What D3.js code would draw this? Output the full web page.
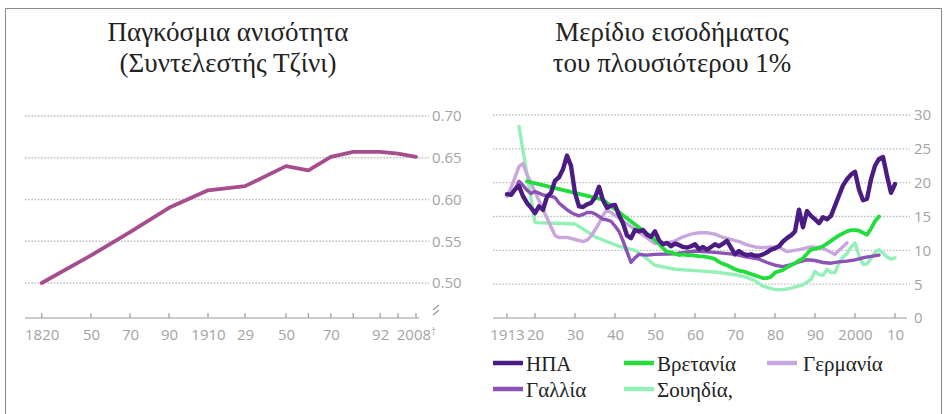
<!DOCTYPE html>
<html><head><meta charset="utf-8">
<script src="https://cdn.jsdelivr.net/npm/d3@7"></script>
<style>
html,body{margin:0;padding:0;background:#fff;}
svg{display:block;}
</style></head>
<body>
<svg id="chart" width="944" height="414"></svg>
<script>
// ---------- DATA ----------
const leftTitle = ["Παγκόσμια ανισότητα", "(Συντελεστής Τζίνι)"];
const rightTitle = ["Μερίδιο εισοδήματος", "του πλουσιότερου 1%"];

const giniYears  = [1820, 1850, 1870, 1890, 1910, 1929, 1950, 1960, 1970, 1980, 1992, 2000, 2008];
const giniValues = [0.500, 0.533, 0.561, 0.590, 0.611, 0.616, 0.640, 0.635, 0.651, 0.657, 0.657, 0.655, 0.651];
const giniTickLabels = ["1820", "50", "70", "90", "1910", "29", "50", "", "70", "", "92", "", "2008"];
const giniYTicks = [0.50, 0.55, 0.60, 0.65, 0.70];

const shareXTicks = [1913, 1920, 1930, 1940, 1950, 1960, 1970, 1980, 1990, 2000, 2010];
const shareXLabels = ["1913", "20", "30", "40", "50", "60", "70", "80", "90", "2000", "10"];
const shareYTicks = [0, 5, 10, 15, 20, 25, 30];

const usYears = [1913,1914,1915,1916,1917,1918,1919,1920,1921,1922,1923,1924,1925,1926,1927,1928,1929,1930,1931,1932,1933,1934,1935,1936,1937,1938,1939,1940,1941,1942,1943,1944,1945,1946,1947,1948,1949,1950,1951,1952,1953,1954,1955,1956,1957,1958,1959,1960,1961,1962,1963,1964,1965,1966,1967,1968,1969,1970,1971,1972,1973,1974,1975,1976,1977,1978,1979,1980,1981,1982,1983,1984,1985,1986,1987,1988,1989,1990,1991,1992,1993,1994,1995,1996,1997,1998,1999,2000,2001,2002,2003,2004,2005,2006,2007,2008,2009,2010];
const usValues = [18.3,18.2,19.0,19.5,18.0,17.0,16.3,15.5,16.5,16.0,17.9,18.5,20.3,20.8,22.0,24.0,22.5,18.5,16.5,16.4,16.8,17.0,17.8,19.4,17.4,16.3,16.6,16.7,15.2,14.0,12.2,11.8,13.0,12.8,13.0,12.3,12.0,12.8,11.5,10.9,11.1,10.6,11.0,10.8,10.5,10.4,10.6,10.9,10.2,10.5,10.1,10.5,10.9,10.6,11.0,11.4,10.4,9.4,9.9,9.5,9.3,9.4,9.2,9.2,9.4,9.7,10.1,10.3,10.6,11.3,11.8,12.2,12.8,16.0,13.4,15.8,15.1,14.6,14.0,14.9,14.6,15.1,16.6,18.1,19.6,20.5,21.2,21.6,19.0,17.4,17.6,20.5,22.5,23.5,23.8,21.0,18.5,19.8];

const ukYears = [1918,1937,1938,1949,1951,1952,1953,1954,1955,1956,1957,1958,1959,1960,1961,1962,1963,1964,1965,1966,1967,1968,1969,1970,1971,1972,1973,1974,1975,1976,1977,1978,1979,1980,1981,1982,1983,1984,1985,1986,1987,1988,1989,1990,1991,1992,1993,1994,1995,1996,1997,1998,1999,2000,2001,2002,2003,2004,2005,2006];
const ukValues = [20.2,17.5,17.0,12.0,11.0,10.3,9.8,9.7,9.5,9.3,9.4,9.3,9.3,9.2,9.1,9.1,9.0,8.9,8.7,8.3,8.0,7.8,7.5,7.2,7.0,6.9,6.7,6.5,6.3,6.1,5.9,5.9,6.1,6.7,6.9,7.1,7.5,7.8,8.1,8.5,8.8,9.5,10.1,10.2,10.4,10.6,11.0,11.4,11.8,12.2,12.5,12.8,13.0,13.0,12.9,12.6,12.3,13.2,14.3,15.0];

const deYears = [1913,1914,1915,1916,1917,1918,1925,1926,1928,1930,1932,1933,1934,1935,1936,1937,1938,1950,1953,1955,1957,1959,1961,1963,1965,1967,1969,1971,1973,1975,1977,1979,1981,1983,1986,1989,1992,1995,1996,1998];
const deValues = [18.0,19.2,20.8,22.4,22.8,21.2,12.2,11.9,11.9,11.6,11.3,11.5,12.1,13.0,14.0,15.2,16.0,11.0,11.1,11.4,12.0,12.4,12.6,12.6,12.4,11.9,11.6,11.3,10.8,10.5,10.4,10.5,10.5,9.8,10.1,10.5,10.3,9.4,10.0,11.1];

const frYears = [1915,1916,1917,1918,1919,1920,1922,1924,1925,1926,1927,1928,1929,1930,1931,1932,1933,1934,1935,1936,1937,1938,1939,1940,1941,1942,1943,1944,1945,1946,1948,1950,1955,1960,1965,1970,1973,1976,1978,1980,1982,1984,1986,1988,1990,1992,1994,1996,1998,2000,2002,2004,2006];
const frValues = [19.0,20.2,19.6,18.9,18.4,18.7,18.2,18.0,17.8,17.0,16.5,16.0,15.6,15.3,15.1,15.3,15.6,15.6,15.4,15.0,14.6,14.5,14.3,13.6,12.8,11.4,9.8,8.2,8.9,9.4,9.3,9.4,9.5,9.9,9.7,9.4,9.0,8.7,8.2,7.8,7.6,7.9,8.3,8.6,8.5,8.2,8.1,8.3,8.4,8.6,8.9,9.1,9.3];

const seYears = [1916,1920,1925,1930,1935,1941,1945,1947,1950,1955,1960,1965,1970,1973,1975,1977,1980,1982,1984,1987,1989,1990,1991,1992,1993,1994,1995,1996,1997,1998,1999,2000,2001,2002,2003,2004,2005,2006,2007,2008,2009,2010];
const seValues = [28.3,14.1,14.0,13.9,12.0,10.6,10.0,9.2,7.8,7.2,7.0,6.8,6.4,6.0,5.5,4.7,4.2,4.2,4.4,4.9,5.7,6.9,6.4,6.3,7.2,6.7,6.7,8.2,9.0,9.5,10.5,11.1,9.2,7.9,8.0,8.8,9.7,10.1,9.6,9.0,8.7,8.9];

const seriesNames  = ["ΗΠΑ", "Βρετανία", "Γερμανία", "Γαλλία", "Σουηδία,"];
const seriesColors = ["#4b1d82", "#22dd3c", "#c9a6de", "#8c52b6", "#93f0b6"];

// ---------- LAYOUT ----------
const svg = d3.select("#chart");
svg.append("rect").attr("x",0).attr("y",0).attr("width",944).attr("height",414).attr("fill","#fff");
// outer frame
svg.append("path").attr("d","M5.5,420 V8.5 H941.5 V420").attr("fill","none").attr("stroke","#8a8a8a").attr("stroke-width",1);

const tickFont = "'Open Sans', sans-serif";
const tickColor = "#a3a3a3";
const gridColor = "#bdbdbd";
const titleFont = "'Liberation Serif', 'Times New Roman', serif";

function title(lines, cx) {
  const t = svg.append("text").attr("font-family", titleFont).attr("font-size", 27).attr("fill", "#222").attr("text-anchor","middle");
  lines.forEach((l,i) => t.append("tspan").attr("x", cx).attr("y", 41 + i*31).text(l));
}
title(leftTitle, 228);
title(rightTitle, 672);

// ---------- LEFT CHART ----------
const lx = d3.scaleLinear().domain([1820, 1850, 1950, 2008]).range([41.7, 91, 286, 416]);
const ly = d3.scaleLinear().domain([0.50, 0.70]).range([283, 116]);
const L = svg.append("g");
const lGridX0 = 25, lGridX1 = 429, axisY = 318;

L.selectAll("line.grid").data(giniYTicks).join("line")
  .attr("x1", lGridX0).attr("x2", lGridX1)
  .attr("y1", d => ly(d)).attr("y2", d => ly(d))
  .attr("stroke", gridColor).attr("stroke-width", 1.3).attr("stroke-dasharray", "1.6,1.6");
L.selectAll("text.yl").data(giniYTicks).join("text")
  .attr("x", 432).attr("y", d => ly(d)).attr("dy","0.36em")
  .attr("font-family", tickFont).attr("font-size", 15).attr("fill", tickColor)
  .text(d => d3.format(".2f")(d));

const lAxis = d3.axisBottom(lx).tickValues(giniYears).tickSize(0).tickFormat((d,i) => giniTickLabels[i]);
const lAxisG = L.append("g").attr("transform", `translate(0,${axisY})`).call(lAxis);
lAxisG.select(".domain").remove();
lAxisG.selectAll("text").attr("font-family", tickFont).attr("font-size", 15).attr("fill", tickColor).attr("dy", "1.25em");
lAxisG.append("line").attr("x1", lGridX0).attr("x2", 419).attr("stroke", "#9a9a9a").attr("stroke-width", 1.2);
lAxisG.selectAll("line.tk").data(giniYears).join("line").attr("class","tk")
  .attr("x1", d => lx(d)).attr("x2", d => lx(d)).attr("y1", 0).attr("y2", -5)
  .attr("stroke", "#9a9a9a").attr("stroke-width", 1.2);
// dagger after 2008
const lastLbl = lAxisG.selectAll(".tick text").filter((d,i) => i === giniYears.length - 1);
lastLbl.append("tspan").attr("font-size", 10).attr("dy", "-0.5em").text("†");
// axis break mark
L.append("path").attr("d", `M433,${axisY-3} l6,-5 M433,${axisY-8} l6,-5`)
  .attr("stroke", "#9a9a9a").attr("stroke-width", 1.3).attr("fill","none");

const gini = giniYears.map((y,i) => [y, giniValues[i]]);
L.append("path").datum(gini)
  .attr("d", d3.line().x(d => lx(d[0])).y(d => ly(d[1])))
  .attr("fill", "none").attr("stroke", "#a64d8e").attr("stroke-width", 3.8)
  .attr("stroke-linejoin","round").attr("stroke-linecap","round");

// ---------- RIGHT CHART ----------
const rx = d3.scaleLinear().domain([1913, 2010]).range([507, 895]);
const ry = d3.scaleLinear().domain([0, 30]).range([318, 115]);
const R = svg.append("g");
const rGridX0 = 493, rGridX1 = 910;

R.selectAll("line.grid").data(shareYTicks.filter(d => d > 0)).join("line")
  .attr("x1", rGridX0).attr("x2", rGridX1)
  .attr("y1", d => ry(d)).attr("y2", d => ry(d))
  .attr("stroke", gridColor).attr("stroke-width", 1.3).attr("stroke-dasharray", "1.6,1.6");
R.selectAll("text.yl").data(shareYTicks).join("text")
  .attr("x", 914).attr("y", d => ry(d)).attr("dy","0.36em")
  .attr("font-family", tickFont).attr("font-size", 15).attr("fill", tickColor)
  .text(d => d);

const rAxis = d3.axisBottom(rx).tickValues(shareXTicks).tickSize(0).tickFormat((d,i) => shareXLabels[i]);
const rAxisG = R.append("g").attr("transform", `translate(0,${axisY})`).call(rAxis);
rAxisG.select(".domain").remove();
rAxisG.selectAll("text").attr("font-family", tickFont).attr("font-size", 15).attr("fill", tickColor).attr("dy", "1.25em");
rAxisG.append("line").attr("x1", rGridX0).attr("x2", 907).attr("stroke", "#9a9a9a").attr("stroke-width", 1.2);
rAxisG.selectAll("line.tk").data(shareXTicks).join("line").attr("class","tk")
  .attr("x1", d => rx(d)).attr("x2", d => rx(d)).attr("y1", 0).attr("y2", -5)
  .attr("stroke", "#9a9a9a").attr("stroke-width", 1.2);

const seriesData = [
  {years: usYears, values: usValues, idx: 0, w: 4.4},
  {years: ukYears, values: ukValues, idx: 1, w: 3.8},
  {years: deYears, values: deValues, idx: 2, w: 3.4},
  {years: frYears, values: frValues, idx: 3, w: 3.4},
  {years: seYears, values: seValues, idx: 4, w: 3.4}
];
const drawOrder = [4, 2, 3, 1, 0];
const rLine = d3.line().x(d => rx(d[0])).y(d => ry(d[1]));
drawOrder.forEach(k => {
  const s = seriesData[k];
  R.append("path").datum(s.years.map((y,i) => [y, s.values[i]]))
    .attr("d", rLine).attr("fill","none")
    .attr("stroke", seriesColors[s.idx]).attr("stroke-width", s.w)
    .attr("stroke-linejoin","round").attr("stroke-linecap","round");
});

// ---------- LEGEND ----------
const legendPos = [[493, 363], [624, 363], [767, 363], [493, 389], [624, 389]];
const lg = svg.append("g");
seriesNames.forEach((n,i) => {
  const [x,y] = legendPos[i];
  lg.append("line").attr("x1", x).attr("x2", x + 30).attr("y1", y).attr("y2", y)
    .attr("stroke", seriesColors[i]).attr("stroke-width", 4.5);
  lg.append("text").attr("x", x + (i === 2 ? 36 : 33)).attr("y", y + 8)
    .attr("font-family", titleFont).attr("font-size", 21).attr("fill", "#222").text(n);
});
</script>
</body></html>
